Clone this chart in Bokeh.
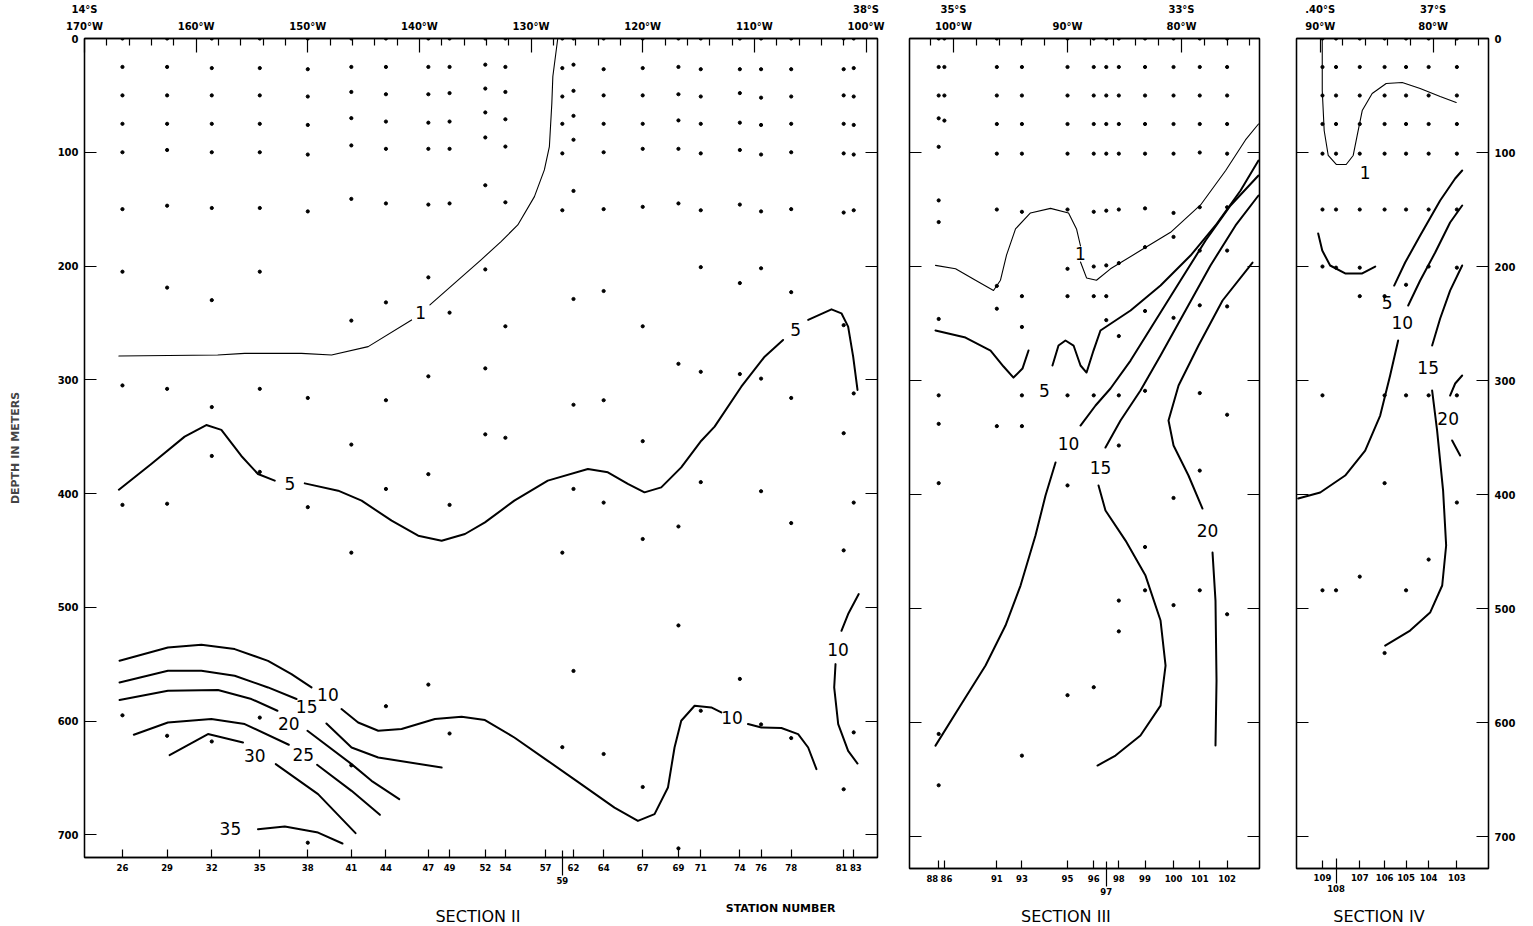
from bokeh.plotting import figure
from bokeh.layouts import row, column
from bokeh.models import Range1d, LinearAxis, FixedTicker
from bokeh.core.properties import value
from bokeh.embed import file_html
from bokeh.resources import INLINE

FONT = "DejaVu Sans"
DEPTH_TICKS = [0, 100, 200, 300, 400, 500, 600, 700]

# ---------------- SECTION II ----------------
S2_STATIONS = [26, 29, 32, 35, 38, 41, 44, 47, 49, 52, 54, 57, 59, 62, 64, 67, 69, 71, 74, 76, 78, 81, 83]
S2_STATION_LON = [166.6, 162.6, 158.6, 154.3, 150.0, 146.1, 143.0, 139.2, 137.3, 134.1, 132.3, 128.7,
                  127.2, 126.2, 123.5, 120.0, 116.8, 114.8, 111.3, 109.4, 106.7, 102.0, 101.1]
S2_LOWER_LABEL = [59]
S2_SAMPLE_DEPTHS = [
    [0, 25, 50, 75, 100, 150, 205, 305, 410, 595],
    [0, 25, 50, 75, 98, 147, 219, 308, 409, 613],
    [0, 26, 50, 75, 100, 149, 230, 324, 367, 618],
    [0, 26, 50, 75, 100, 149, 205, 308, 381, 597],
    [0, 27, 51, 76, 102, 152, 316, 412, 707],
    [0, 25, 47, 70, 94, 141, 248, 357, 452, 639],
    [0, 25, 49, 73, 97, 145, 232, 318, 396, 587],
    [0, 25, 49, 74, 97, 146, 210, 297, 383, 568],
    [0, 25, 48, 73, 97, 145, 241, 410, 611],
    [0, 23, 44, 65, 87, 129, 203, 290, 348],
    [0, 25, 47, 71, 95, 144, 253, 351],
    [],
    [0, 26, 51, 75, 101, 151, 452, 623],
    [0, 23, 46, 68, 89, 134, 229, 322, 396, 556],
    [0, 27, 50, 75, 100, 150, 222, 318, 408, 629],
    [0, 26, 50, 75, 97, 148, 253, 354, 440, 658],
    [0, 25, 49, 72, 97, 145, 286, 429, 516, 712],
    [0, 27, 51, 75, 101, 151, 201, 293, 390, 591],
    [0, 27, 48, 74, 98, 146, 215, 295, 563],
    [0, 27, 52, 76, 102, 152, 202, 299, 398, 603],
    [0, 27, 51, 75, 100, 150, 223, 316, 426, 615],
    [0, 27, 50, 75, 101, 153, 252, 347, 450, 660],
    [0, 26, 51, 76, 102, 151, 312, 408, 610],
]
S2_LON_MAJOR = [170, 160, 150, 140, 130, 120, 110, 100]
S2_LON_MINOR = [168, 166, 164, 162, 158, 156, 154, 152, 148, 146, 144, 142, 138, 136, 134, 132,
                128, 126, 124, 122, 118, 116, 114, 112, 108, 106, 104, 102]
S2_LAT_LABELS = {170: "14°S", 100: "38°S"}

# contour lines: (level, weight, segments of (lon, depth), label positions)
S2_CONTOURS = [
    (1, "thin",
     [[(166.92, 279.1), (158.07, 278.2), (155.65, 276.8), (150.57, 276.8), (147.87, 278.2),
       (144.59, 270.9), (140.70, 247.4)],
      [(139.06, 234.2), (134.48, 194.6), (132.69, 178.5), (131.19, 163.9), (129.70, 139.0),
       (128.81, 115.5), (128.36, 95.0), (128.14, 56.9), (128.05, 33.4), (127.61, 0.0)]],
     [(139.9, 241)]),
    (5, "thick",
     [[(166.92, 396.7), (164.02, 374.1), (161.03, 350.0), (159.09, 339.8), (157.74, 344.1),
       (155.95, 367.0), (154.46, 382.9), (152.96, 388.7)],
      [(150.27, 391.1), (147.28, 397.5), (145.18, 406.3), (142.49, 423.9), (140.11, 437.1),
       (138.01, 441.5), (135.92, 435.6), (134.13, 425.4), (131.50, 406.3), (128.50, 388.7),
       (124.91, 378.5), (123.12, 381.4), (121.33, 391.6), (119.84, 399.0), (118.34, 394.6),
       (116.55, 377.0), (114.75, 353.6), (113.56, 341.2), (111.17, 306.1), (109.08, 279.7),
       (107.43, 265.0)],
      [(105.18, 247.4), (103.09, 238.1), (102.20, 241.6), (101.60, 253.3), (101.15, 279.7),
       (100.76, 309.0)]],
     [(151.6, 391.5), (106.3, 256)]),
    (10, "thick",
     [[(166.86, 547.1), (162.53, 535.4), (159.53, 533.0), (156.55, 536.8), (153.56, 547.1),
       (151.46, 558.8), (149.67, 570.5)],
      [(146.98, 589.5), (145.49, 601.3), (143.69, 608.6), (141.60, 607.1), (138.61, 598.3),
       (136.22, 596.3), (134.13, 599.2), (131.50, 614.5), (128.50, 635.0), (125.52, 655.5),
       (122.53, 676.1), (120.43, 687.8), (118.94, 681.9), (117.74, 658.5), (117.15, 623.3),
       (116.55, 599.8), (115.35, 586.6), (113.86, 588.1), (112.96, 592.5)],
      [(110.57, 602.7), (109.37, 605.7), (107.58, 606.2), (106.08, 611.5), (105.18, 623.3),
       (104.44, 642.3)],
      [(100.65, 488.4), (101.60, 506.0), (102.20, 520.7)],
      [(102.73, 550.0), (102.85, 570.5), (102.49, 602.7), (101.60, 626.2), (100.76, 637.4)]],
     [(148.2, 576.3), (112.0, 597.0), (102.5, 536.8)]),
    (15, "thick",
     [[(166.86, 566.1), (162.53, 555.8), (159.53, 555.8), (156.55, 560.2), (153.56, 570.5),
       (151.01, 580.7)],
      [(148.33, 602.2), (146.08, 623.3), (143.69, 632.1), (138.01, 640.9)]],
     [(150.1, 587.5)]),
    (20, "thick",
     [[(166.86, 581.6), (162.53, 573.4), (158.04, 572.8), (155.05, 580.7), (152.72, 591.0)],
      [(150.03, 608.6), (146.08, 637.9), (144.29, 652.6), (141.81, 668.7)]],
     [(151.7, 602.2)]),
    (25, "thick",
     [[(165.58, 612.1), (162.53, 601.3), (158.64, 598.3), (155.65, 602.7), (151.70, 620.9)],
      [(149.17, 638.5), (146.08, 661.4), (143.54, 682.5)]],
     [(150.4, 629.1)]),
    (30, "thick",
     [[(162.38, 630.0), (158.94, 611.5), (155.80, 618.9)],
      [(152.87, 637.9), (149.08, 664.3), (145.72, 698.6)]],
     [(154.75, 630.0)]),
    (35, "thick",
     [[(154.46, 695.1), (152.06, 692.8), (149.08, 698.1), (146.89, 707.7)]],
     [(156.93, 694.5)]),
]

# ---------------- SECTION III ----------------
S3_STATIONS = [88, 86, 91, 93, 95, 96, 97, 98, 99, 100, 101, 102]
S3_STATION_LON = [101.3, 100.8, 96.2, 94.0, 90.0, 87.7, 86.6, 85.5, 83.2, 80.7, 78.4, 76.0]
S3_LOWER_LABEL = [97]
S3_SAMPLE_DEPTHS = [
    [0, 25, 50, 70, 95, 142, 161, 246, 313, 338, 390, 610, 655],
    [0, 25, 50, 72],
    [0, 25, 50, 75, 101, 150, 217, 237, 340],
    [0, 25, 50, 75, 101, 152, 226, 253, 313, 340, 629],
    [0, 25, 50, 75, 101, 150, 202, 226, 313, 392, 576],
    [0, 25, 50, 75, 101, 152, 200, 226, 313, 569],
    [0, 25, 50, 75, 101, 151, 199, 226, 247],
    [0, 25, 50, 75, 101, 150, 197, 261, 313, 357, 493, 520],
    [0, 25, 50, 75, 101, 149, 183, 239, 309, 446, 484],
    [0, 25, 50, 75, 101, 153, 174, 245, 403, 497],
    [0, 25, 50, 75, 100, 148, 186, 234, 311, 379, 484],
    [0, 25, 50, 75, 101, 148, 186, 235, 330, 505],
]
S3_LON_MAJOR = [100, 90, 80]
S3_LON_MINOR = [102, 98, 96, 94, 92, 88, 86, 84, 82, 78, 76, 74]
S3_LAT_LABELS = {100: "35°S", 80: "33°S"}
S3_CONTOURS = [
    (1, "thin",
     [[(101.58, 199), (99.82, 202), (98.07, 212), (96.49, 221), (95.88, 212), (95.35, 190),
       (94.56, 167), (93.25, 153), (91.49, 149), (89.91, 153), (89.21, 167), (88.86, 182)],
      [(88.86, 196), (88.33, 210), (87.46, 212), (86.23, 202), (83.60, 186), (80.96, 170),
       (78.33, 146), (76.14, 116), (74.39, 89), (73.25, 75)]],
     [(88.86, 189)]),
    (5, "thick",
     [[(101.58, 256.1), (98.95, 262.3), (96.75, 273.7), (95.61, 287.7), (94.74, 297.4),
       (93.95, 289.5), (93.42, 273.7)],
      [(91.32, 286.8), (90.79, 269.3), (90.18, 264.9), (89.47, 269.3), (88.86, 286.8),
       (88.33, 293.0), (87.72, 273.7), (87.11, 256.1), (84.47, 238.6), (81.84, 216.7),
       (79.21, 190.4), (77.02, 164.0), (74.82, 133.3), (73.25, 107.0)]],
     [(92.02, 308.8)]),
    (10, "thick",
     [[(101.58, 620.2), (99.39, 585.1), (97.19, 550.0), (95.44, 514.9), (94.12, 479.8),
       (92.81, 436.0), (91.93, 400.9), (91.05, 371.9)],
      [(88.86, 339.5), (87.54, 321.9), (86.23, 307.0), (84.47, 282.5), (82.28, 247.4),
       (80.09, 212.3), (77.89, 177.2), (75.70, 146.5), (73.25, 120.2)]],
     [(89.91, 355.3)]),
    (15, "thick",
     [[(86.67, 358.8), (85.35, 335.1), (83.60, 308.8), (81.84, 278.1), (79.65, 238.6),
       (77.46, 199.1), (75.26, 164.0), (73.25, 137.7)],
      [(87.28, 392.1), (86.67, 414.0), (84.91, 440.4), (83.16, 471.1), (81.84, 510.5),
       (81.40, 550.0), (81.84, 585.1), (83.60, 611.4), (85.79, 628.9), (87.37, 637.7)]],
     [(87.11, 376.3)]),
    (20, "thick",
     [[(78.16, 412.3), (79.39, 383.3), (80.70, 357.0), (81.14, 335.1), (80.26, 304.4),
       (78.51, 269.3), (76.40, 229.8), (73.77, 196.5)],
      [(77.28, 450.9), (77.02, 493.0), (76.93, 563.2), (77.02, 620.2)]],
     [(77.72, 431.6)]),
]

# ---------------- SECTION IV ----------------
S4_STATIONS = [109, 108, 107, 106, 105, 104, 103]
S4_STATION_LON = [89.8, 88.6, 86.5, 84.3, 82.4, 80.4, 77.9]
S4_LOWER_LABEL = [108]
S4_SAMPLE_DEPTHS = [
    [0, 25, 50, 75, 101, 150, 200, 313, 484],
    [0, 25, 50, 75, 101, 150, 201, 484],
    [0, 25, 50, 75, 101, 150, 201, 226, 472],
    [0, 25, 50, 75, 101, 150, 226, 313, 390, 539],
    [0, 25, 50, 75, 101, 150, 216, 313, 484],
    [0, 25, 50, 75, 101, 150, 200, 313, 457],
    [0, 25, 50, 75, 101, 150, 201, 313, 407],
]
S4_LON_MAJOR = [90, 80]
S4_LON_MINOR = [88, 86, 84, 82, 78, 76]
S4_LAT_LABELS = {90: ".40°S", 80: "37°S"}
S4_CONTOURS = [
    (1, "thin",
     [[(89.82, 0), (89.82, 45.6), (89.65, 80.7), (89.29, 102.6), (88.58, 110.5), (87.70, 110.5),
       (87.08, 102.6), (86.73, 85.1), (86.28, 63.2), (85.40, 48.2), (84.16, 39.5), (82.74, 38.6),
       (81.15, 43.9), (79.38, 50.9), (77.96, 56.1)]],
     [(86.02, 117.5)]),
    (5, "thick",
     [[(90.18, 171.1), (89.82, 186.0), (89.12, 199.1), (87.79, 206.1), (86.28, 206.1),
       (85.13, 200.0)],
      [(83.45, 216.7), (82.48, 196.5), (81.15, 172.8), (79.38, 142.1), (78.05, 122.8),
       (77.43, 115.8)]],
     [(84.07, 231.6)]),
    (10, "thick",
     [[(82.21, 234.2), (81.15, 212.3), (79.82, 187.7), (78.50, 161.4), (77.43, 146.5)],
      [(83.10, 264.9), (83.81, 295.6), (84.69, 330.7), (86.02, 361.4), (87.79, 383.3),
       (90.0, 398.2), (91.95, 403.5)]],
     [(82.74, 249.1)]),
    (15, "thick",
     [[(80.09, 269.3), (79.38, 245.6), (78.50, 221.1), (77.43, 199.1)],
      [(80.09, 308.8), (79.65, 343.9), (79.12, 396.5), (78.85, 444.7), (79.20, 479.8),
       (80.27, 503.5), (82.04, 519.3), (84.25, 532.5)]],
     [(80.44, 288.6)]),
    (20, "thick",
     [[(78.50, 313.2), (78.05, 302.6), (77.43, 295.6)],
      [(78.32, 352.6), (77.61, 365.8)]],
     [(78.67, 333.3)]),
]

WINDOW_H = 926


def make_axis(ticks, overrides, tick_in=0, tick_out=0, minor=None, minor_in=0,
              line=True, size="10px", standoff=5):
    ax = LinearAxis(ticker=FixedTicker(ticks=ticks, minor_ticks=minor or []),
                    major_tick_in=tick_in, major_tick_out=tick_out,
                    minor_tick_in=minor_in, minor_tick_out=0,
                    major_tick_line_color="black", minor_tick_line_color="black",
                    major_tick_line_width=1.2, minor_tick_line_width=1.2,
                    axis_line_color="black" if line else None, axis_line_width=1.3,
                    major_label_text_font=FONT, major_label_text_font_size=size,
                    major_label_text_font_style="bold", major_label_text_color="black",
                    major_label_standoff=standoff)
    ax.major_label_overrides = overrides
    return ax


def make_section(cfg):
    fw, fh = cfg["frame"]
    bl, br, bt, bb = cfg["border"]
    p = figure(frame_width=fw, frame_height=fh,
               x_range=Range1d(*cfg["x_range"]), y_range=Range1d(cfg["depth_max"], 0),
               output_backend="svg", toolbar_location=None,
               x_axis_location=None, y_axis_location=None,
               min_border_left=bl, min_border_right=br, min_border_top=bt, min_border_bottom=bb,
               background_fill_color="white", border_fill_color="white",
               outline_line_color="black", outline_line_width=1.3)
    p.grid.visible = False
    p.title.visible = False

    # top: longitude ticks/labels with latitude labels above
    lon_major = cfg["lon_major"]
    top1 = make_axis(lon_major, {l: f"{l}°W" for l in lon_major}, tick_in=14,
                     minor=cfg["lon_minor"], minor_in=7, size="10px", standoff=7)
    lat = cfg["lat_labels"]
    top2 = make_axis(list(lat.keys()), dict(lat), line=False, size="10px", standoff=3)
    p.add_layout(top1, "above")
    p.add_layout(top2, "above")

    # bottom: station numbers
    st, lon = cfg["stations"], cfg["station_lon"]
    nudge = cfg.get("label_nudge", {})
    upper = [(s, l) for s, l in zip(st, lon) if s not in cfg["lower"]]
    lower = [(s, l) for s, l in zip(st, lon) if s in cfg["lower"]]
    b1 = make_axis([l for _, l in upper], {l: nudge.get(s, str(s)) for s, l in upper}, tick_in=8,
                   size="8.5px", standoff=5)
    b2 = make_axis([l for _, l in lower], {l: str(s) for s, l in lower}, tick_in=25,
                   line=False, size="8.5px", standoff=1)
    p.add_layout(b1, "below")
    p.add_layout(b2, "below")

    # depth axes
    left_lab = {d: (str(d) if cfg["left_labels"] else "") for d in DEPTH_TICKS}
    right_lab = {d: (str(d) if cfg["right_labels"] else "") for d in DEPTH_TICKS}
    la = make_axis(DEPTH_TICKS, left_lab, tick_in=12, size="10px", standoff=6)
    ra = make_axis(DEPTH_TICKS, right_lab, tick_in=12, size="10px", standoff=6)
    if cfg.get("axis_label"):
        la.axis_label = cfg["axis_label"]
        la.axis_label_text_font = FONT
        la.axis_label_text_font_size = "11px"
        la.axis_label_text_font_style = "bold"
        la.axis_label_standoff = 33
    p.add_layout(la, "left")
    p.add_layout(ra, "right")

    # sample points
    xs, ys = [], []
    for l, depths in zip(lon, cfg["samples"]):
        xs += [l] * len(depths)
        ys += depths
    p.scatter(xs, ys, size=3.2, color="black")

    # contours and their labels
    tx, ty, tt = [], [], []
    for level, weight, segments, labels in cfg["contours"]:
        w = 1.1 if weight == "thin" else 2.0
        for seg in segments:
            p.line([a for a, _ in seg], [b for _, b in seg], line_color="black",
                   line_width=w, line_join="round", line_cap="round")
        for a, b in labels:
            tx.append(a)
            ty.append(b)
            tt.append(str(level))
    if tt:
        p.text(tx, ty, text=tt, text_font=value(FONT), text_font_size=value("17px"),
               text_align="center", text_baseline="middle", text_color="black")

    # footer strip (same horizontal frame) carrying the section title texts
    foot_h = WINDOW_H - (bt + fh + bb)
    f = figure(frame_width=fw, frame_height=foot_h,
               x_range=Range1d(0, fw), y_range=Range1d(foot_h, 0),
               output_backend="svg", toolbar_location=None,
               x_axis_location=None, y_axis_location=None,
               min_border_left=bl, min_border_right=br, min_border_top=0, min_border_bottom=0,
               background_fill_color="white", border_fill_color="white",
               outline_line_color=None)
    f.grid.visible = False
    f.title.visible = False
    f.text([cfg["title_pos"][0]], [cfg["title_pos"][1]], text=[cfg["title"]],
           text_font=value(FONT), text_font_size=value("16px"), text_align="center",
           text_baseline="top", text_color="black")
    if cfg.get("station_title"):
        f.text([cfg["station_title_pos"][0]], [cfg["station_title_pos"][1]],
               text=[cfg["station_title"]], text_font=value(FONT), text_font_size=value("11px"),
               text_font_style="bold", text_align="center", text_baseline="middle",
               text_color="black")
    return column(p, f, spacing=0)


sec2 = make_section(dict(
    frame=(793, 819), border=(84, 16, 38, 34), x_range=(170.0, 98.97), depth_max=720,
    lon_major=S2_LON_MAJOR, lon_minor=S2_LON_MINOR, lat_labels=S2_LAT_LABELS,
    stations=S2_STATIONS, station_lon=S2_STATION_LON, lower=S2_LOWER_LABEL,
    label_nudge={81: "81\u2002", 83: "\u200283"},
    samples=S2_SAMPLE_DEPTHS, contours=S2_CONTOURS,
    left_labels=True, right_labels=False, axis_label="DEPTH IN METERS",
    title="SECTION  II", title_pos=(396, 15),
    station_title="STATION  NUMBER", station_title_pos=(698, 17)))

sec3 = make_section(dict(
    frame=(350, 830), border=(16, 18, 38, 34), x_range=(103.86, 73.16), depth_max=728,
    lon_major=S3_LON_MAJOR, lon_minor=S3_LON_MINOR, lat_labels=S3_LAT_LABELS,
    stations=S3_STATIONS, station_lon=S3_STATION_LON, lower=S3_LOWER_LABEL,
    label_nudge={88: "88\u2003\u2002", 86: "\u200286"},
    samples=S3_SAMPLE_DEPTHS, contours=S3_CONTOURS,
    left_labels=False, right_labels=False,
    title="SECTION  III", title_pos=(159, 4)))

sec4 = make_section(dict(
    frame=(192, 830), border=(19, 45, 38, 34), x_range=(92.1, 75.1), depth_max=728,
    lon_major=S4_LON_MAJOR, lon_minor=S4_LON_MINOR, lat_labels=S4_LAT_LABELS,
    stations=S4_STATIONS, station_lon=S4_STATION_LON, lower=S4_LOWER_LABEL,
    samples=S4_SAMPLE_DEPTHS, contours=S4_CONTOURS,
    left_labels=False, right_labels=True,
    title="SECTION  IV", title_pos=(85, 4)))

layout = row(sec2, sec3, sec4, spacing=0)
open("out.html", "w").write(file_html(layout, INLINE))
